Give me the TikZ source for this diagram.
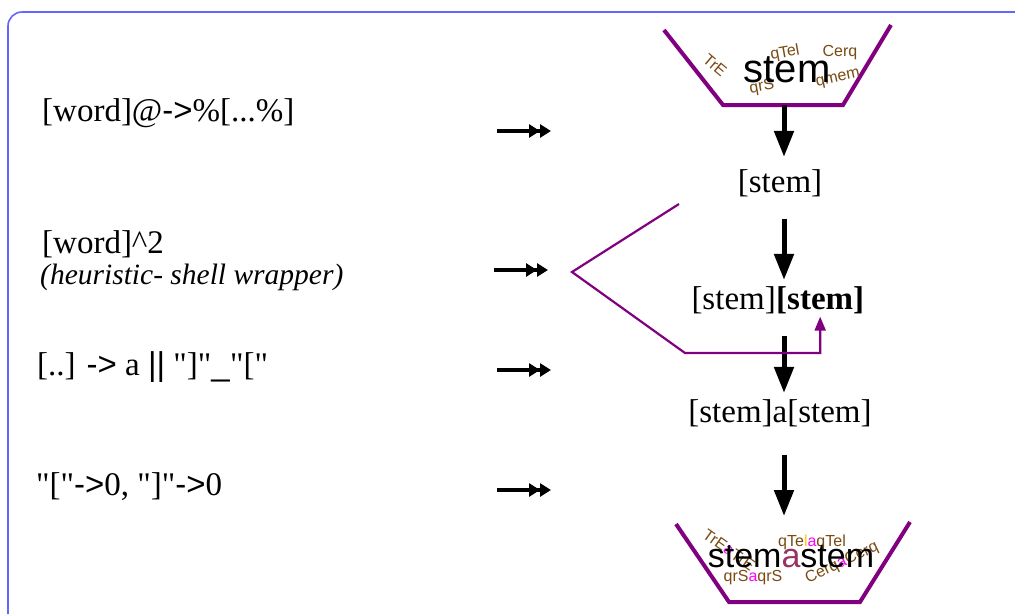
\documentclass[tikz,border=0pt]{standalone}
\usepackage{fontspec}
\setmainfont{Liberation Serif}[Ligatures=TeXOff]
\setsansfont{Liberation Sans}
\usetikzlibrary{arrows.meta}
\definecolor{bowlpurple}{HTML}{800080}
\definecolor{frameblue}{HTML}{6464FF}
\definecolor{chipbrown}{HTML}{7A4A12}
\definecolor{chipmag}{HTML}{FF00FF}
\definecolor{chipyel}{HTML}{FFCC00}
\definecolor{joinred}{HTML}{993366}
\begin{document}
\begin{tikzpicture}[x=1pt,y=-1pt,
  frame/.style={draw=frameblue,line width=1.6pt,rounded corners=14pt},
  bowl/.style={draw=bowlpurple,line width=4pt,line join=miter},
  rule/.style={font=\fontsize{33}{36}\selectfont,inner sep=0pt,anchor=base west},
  note/.style={font=\fontsize{29.5}{32}\selectfont\itshape,inner sep=0pt,anchor=base west},
  word/.style={font=\fontsize{33}{36}\selectfont,inner sep=0pt,anchor=base},
  big/.style={font=\sffamily\fontsize{40}{44}\selectfont,inner sep=0pt},
  chip/.style={font=\sffamily\fontsize{16}{18}\selectfont,text=chipbrown,inner sep=0pt},
  down/.style={-{Triangle[length=26pt,width=19pt]},line width=5pt,shorten <=22pt,shorten >=6pt},
  dbl/.style={-{Triangle[length=11pt,width=13pt]Triangle[length=11pt,width=13pt]},line width=3.5pt},
  wrap/.style={draw=bowlpurple,line width=2.2pt,-{Triangle[length=14pt,width=11pt]}},
]
\useasboundingbox (0,0) rectangle (1015,614);
\draw[frame] (8,614) -- (8,12) -- (1015,12);

\node[rule] (r1) at (42,121) {[word]@\textsf{->}\%[...\%]};
\node[rule] (r2) at (42,253) {[word]\textasciicircum 2};
\node[note] (r2n) at (40,284) {(heuristic- shell wrapper)};
\node[rule] (r3) at (37,375) {[..] \textsf{->} a \textsf{||} "]"\textsf{\_}"["};
\node[rule] (r4) at (36,495) {"["\textsf{->}0, "]"\textsf{->}0};
\foreach \y/\x [count=\i] in {131/497,270/494,370/497,490/497}{
  \coordinate (da\i) at (\x,\y);
  \coordinate (db\i) at (\x+54,\y);
  \draw[dbl] (da\i) -- (db\i);
}

\draw[bowl] (664,30) -- (723,105) -- (843,105) -- (891,25);
\node[chip,rotate=-40] (c1) at (715,65) {TrE};
\node[chip,rotate=10] (c2) at (785,53) {qTel};
\node[chip] (c3) at (840,53) {Cerq};
\node[chip,rotate=10] (c4) at (762,87) {qrS};
\node[chip,rotate=12] (c5) at (838,79) {qmem};
\node[big] (top) at (787,70) {stem};
\coordinate (tb) at (784,105);

\node[word] (s1) at (780,192) {[stem]};
\node[word,anchor=base east] (s2l) at (776,309) {[stem]};
\node[word,anchor=base west] (s2r) at (776,309) {\textbf{[stem]}};
\node[word] (s3) at (780,422) {[stem]a[stem]};

\draw[bowl] (676,524) -- (729,602) -- (860,602) -- (910,522);
\node[chip,rotate=-35] (e1) at (729,550) {TrE\textcolor{chipmag}{a}TrE};
\node[chip] (e2) at (812,542) {qTe\textcolor{chipyel}{l}\textcolor{chipmag}{a}qTel};
\node[chip] (e3) at (753,578) {qrS\textcolor{chipmag}{a}qrS};
\node[chip,rotate=25] (e4) at (842,563) {Cerq\textcolor{chipmag}{a}Cerq};
\node[big,font=\sffamily\fontsize{34}{38}\selectfont] (bot) at (791,557) {stem\textcolor{joinred}{a}stem};
\coordinate (bb) at (784,516);

\draw[down,shorten <=0pt,shorten >=12pt] (tb) -- (tb |- s1.north);
\draw[down] (tb |- s1.south) -- (tb |- s2l.north);
\draw[down] (tb |- s2l.south) -- (tb |- s3.north);
\draw[down,shorten >=0pt,shorten <=28pt] (tb |- s3.south) -- (bb);

\coordinate (w0) at (679,204);
\coordinate (w1) at (572,272);
\coordinate (w2) at (685,353);
\draw[wrap] (w0) -- (w1) -- (w2) -| ([yshift=-3pt]s2r.south);
\end{tikzpicture}
\end{document}
